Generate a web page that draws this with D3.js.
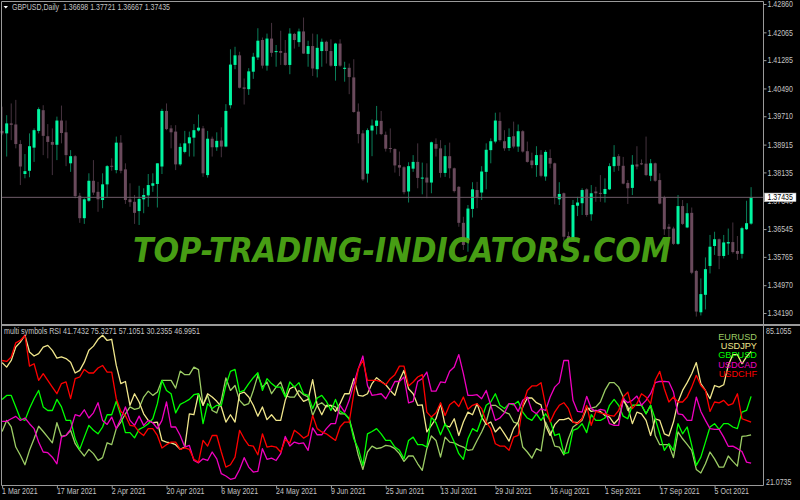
<!DOCTYPE html>
<html>
<head>
<meta charset="utf-8">
<script src="https://d3js.org/d3.v7.min.js"></script>
<style>
  body { margin: 0; background: #000; }
  text { font-family: "Liberation Sans", sans-serif; }
</style>
</head>
<body>
<div id="chart"></div>
<script>
const dateLabels = ["1 Mar 2021","17 Mar 2021","2 Apr 2021","20 Apr 2021","6 May 2021","24 May 2021","9 Jun 2021","25 Jun 2021","13 Jul 2021","29 Jul 2021","16 Aug 2021","1 Sep 2021","17 Sep 2021","5 Oct 2021"];
const barsPerLabel = 12;
const priceTicks = [1.42860,1.42065,1.41285,1.40490,1.39710,1.38915,1.38135,1.37340,1.36545,1.35765,1.34970,1.34190];
const rsiTicks = [85.1055,21.0735];
const lastPrice = 1.37435;
const chartTitle = "GBPUSD,Daily  1.36698 1.37721 1.36667 1.37435";
const rsiTitle = "multi symbols RSI 41.7432 75.3271 57.1051 30.2355 46.9951";
const watermark = "TOP-TRADING-INDICATORS.COM";

const opens = [1.3930,1.3923,1.3951,1.3948,1.3893,1.3809,1.3818,1.3883,1.3930,1.3988,
1.3915,1.3899,1.3891,1.3959,1.3926,1.3839,1.3859,1.3748,1.3685,1.3734,
1.3790,1.3759,1.3736,1.3780,1.3832,1.3820,1.3897,1.3822,1.3738,1.3731,
1.3705,1.3738,1.3749,1.3776,1.3781,1.3830,1.3986,1.3937,1.3928,1.3836,
1.3871,1.3895,1.3911,1.3931,1.3937,1.3806,1.3908,1.3884,1.3903,1.3886,
1.4002,1.4115,1.4142,1.4052,1.4047,1.4096,1.4136,1.4185,1.4113,1.4189,
1.4151,1.4154,1.4149,1.4115,1.4202,1.4179,1.4209,1.4146,1.4168,1.4103,
1.4154,1.4180,1.4154,1.4112,1.4175,1.4104,1.4107,1.4080,1.3984,1.3923,
1.3810,1.3931,1.3944,1.3958,1.3919,1.3882,1.3879,1.3834,1.3828,1.3760,
1.3824,1.3843,1.3796,1.3799,1.3785,1.3893,1.3881,1.3812,1.3859,1.3825,
1.3773,1.3672,1.3624,1.3711,1.3764,1.3757,1.3815,1.3876,1.3900,1.3958,
1.3901,1.3882,1.3915,1.3886,1.3929,1.3873,1.3847,1.3834,1.3863,1.3802,
1.3854,1.3839,1.3738,1.3755,1.3635,1.3624,1.3720,1.3727,1.3766,1.3696,
1.3760,1.3756,1.3753,1.3766,1.3831,1.3859,1.3832,1.3784,1.3770,1.3836,
1.3839,1.3838,1.3804,1.3839,1.3792,1.3744,1.3661,1.3656,1.3613,1.3719,
1.3659,1.3700,1.3537,1.3421,1.3470,1.3551,1.3607,1.3626,1.3579,1.3614,
1.3618,1.3593,1.3585,1.3654,1.36698];

const highs = [1.3998,1.3974,1.4007,1.4017,1.3904,1.3865,1.3923,1.3937,1.3996,1.4002,
1.3949,1.3937,1.3970,1.4001,1.3959,1.3876,1.3862,1.3756,1.3741,1.3811,
1.3848,1.3787,1.3811,1.3834,1.3853,1.3914,1.3918,1.3839,1.3783,1.3750,
1.3776,1.3769,1.3809,1.3811,1.3839,1.3992,1.4007,1.3946,1.3946,1.3895,
1.3930,1.3928,1.3949,1.3976,1.3944,1.3930,1.3914,1.3926,1.3940,1.4005,
1.4159,1.4166,1.4152,1.4077,1.4106,1.4149,1.4218,1.4192,1.4203,1.4233,
1.4171,1.4211,1.4185,1.4218,1.4205,1.4217,1.4248,1.4183,1.4203,1.4201,
1.4189,1.4183,1.4187,1.4177,1.4187,1.4124,1.4119,1.4131,1.4007,1.3932,
1.3937,1.3962,1.4000,1.3986,1.3928,1.3937,1.3881,1.3872,1.3831,1.3842,
1.3862,1.3895,1.3841,1.3839,1.3900,1.3909,1.3904,1.3890,1.3897,1.3827,
1.3775,1.3689,1.3722,1.3786,1.3787,1.3831,1.3895,1.3909,1.3981,1.3982,
1.3932,1.3937,1.3956,1.3948,1.3932,1.3900,1.3869,1.3887,1.3876,1.3876,
1.3878,1.3841,1.3786,1.3757,1.3647,1.3736,1.3745,1.3769,1.3769,1.3778,
1.3773,1.3806,1.3797,1.3839,1.3890,1.3865,1.3857,1.3792,1.3862,1.3887,
1.3850,1.3914,1.3851,1.3841,1.3811,1.3748,1.3669,1.3661,1.3750,1.3736,
1.3727,1.3715,1.3540,1.3516,1.3575,1.3638,1.3647,1.3628,1.3638,1.3656,
1.3673,1.3635,1.3661,1.3734,1.37721];

const lows = [1.3918,1.3858,1.3904,1.3881,1.3778,1.3797,1.3800,1.3843,1.3923,1.3862,
1.3853,1.3806,1.3848,1.3895,1.3831,1.3815,1.3741,1.3672,1.3669,1.3731,
1.3750,1.3703,1.3713,1.3745,1.3818,1.3811,1.3811,1.3725,1.3717,1.3669,
1.3666,1.3699,1.3717,1.3759,1.3715,1.3809,1.3932,1.3881,1.3820,1.3832,
1.3867,1.3858,1.3858,1.3928,1.3801,1.3799,1.3858,1.3874,1.3856,1.3884,
1.3993,1.4103,1.4049,1.4004,1.4031,1.4076,1.4129,1.4105,1.4099,1.4138,
1.4110,1.4115,1.4113,1.4089,1.4161,1.4166,1.4146,1.4110,1.4084,1.4080,
1.4110,1.4119,1.4110,1.4071,1.4110,1.4068,1.4033,1.3981,1.3895,1.3790,
1.3785,1.3859,1.3920,1.3918,1.3872,1.3869,1.3813,1.3803,1.3752,1.3729,
1.3815,1.3769,1.3752,1.3741,1.3755,1.3858,1.3799,1.3801,1.3797,1.3757,
1.3661,1.3596,1.3591,1.3687,1.3713,1.3736,1.3766,1.3839,1.3895,1.3900,
1.3874,1.3874,1.3881,1.3871,1.3869,1.3841,1.3825,1.3801,1.3800,1.3790,
1.3825,1.3724,1.3722,1.3622,1.3610,1.3619,1.3691,1.3694,1.3689,1.3678,
1.3731,1.3731,1.3729,1.3764,1.3815,1.3818,1.3780,1.3725,1.3750,1.3822,
1.3834,1.3803,1.3789,1.3787,1.3724,1.3638,1.3631,1.3610,1.3610,1.3666,
1.3657,1.3528,1.3409,1.3412,1.3429,1.3530,1.3582,1.3542,1.3572,1.3582,
1.3586,1.3568,1.3572,1.3652,1.36667];

const closes = [1.3923,1.3951,1.3947,1.3893,1.3830,1.3817,1.3887,1.3932,1.3991,1.3916,
1.3899,1.3891,1.3959,1.3924,1.3862,1.3859,1.3747,1.3685,1.3738,1.3790,
1.3757,1.3738,1.3780,1.3831,1.3830,1.3897,1.3818,1.3736,1.3730,1.3700,
1.3739,1.3750,1.3778,1.3783,1.3839,1.3986,1.3935,1.3926,1.3836,1.3885,
1.3895,1.3912,1.3932,1.3939,1.3811,1.3908,1.3884,1.3902,1.3886,1.3986,
1.4116,1.4142,1.4051,1.4048,1.4097,1.4138,1.4183,1.4113,1.4189,1.4149,
1.4154,1.4149,1.4115,1.4203,1.4185,1.4209,1.4147,1.4168,1.4105,1.4163,
1.4180,1.4154,1.4113,1.4175,1.4113,1.4107,1.4081,1.3983,1.3921,1.3794,
1.3932,1.3945,1.3959,1.3921,1.3880,1.3880,1.3833,1.3827,1.3758,1.3831,
1.3843,1.3798,1.3799,1.3785,1.3898,1.3880,1.3812,1.3859,1.3825,1.3761,
1.3672,1.3610,1.3712,1.3766,1.3743,1.3816,1.3877,1.3901,1.3959,1.3904,
1.3881,1.3913,1.3886,1.3929,1.3872,1.3843,1.3834,1.3862,1.3804,1.3871,
1.3838,1.3745,1.3753,1.3633,1.3619,1.3722,1.3729,1.3764,1.3694,1.3755,
1.3755,1.3754,1.3767,1.3831,1.3857,1.3832,1.3782,1.3769,1.3835,1.3830,
1.3836,1.3806,1.3839,1.3790,1.3726,1.3654,1.3655,1.3613,1.3719,1.3669,
1.3699,1.3532,1.3423,1.3472,1.3542,1.3605,1.3626,1.3579,1.3617,1.3618,
1.3590,1.3585,1.3657,1.3671,1.37435];

const eurusd = [42.5,47.2,44.4,35.9,32.4,28.4,34.5,39.4,44.7,42.5,40.1,37.7,46.2,40.4,40.8,43.0,37.3,34.5,32.1,34.9,33.1,30.2,31.4,37.7,36.9,43.7,46.5,50.0,52.9,51.9,52.4,57.1,59.6,57.8,59.2,64.2,64.2,64.2,60.9,68.1,66.6,66.6,69.8,68.7,53.6,57.8,51.4,50.4,55.7,65.2,59.9,62.0,55.7,53.6,54.3,59.9,66.3,61.3,63.5,
58.5,61.3,63.5,57.8,57.1,57.1,59.9,58.1,57.1,49.3,53.6,54.7,52.9,53.6,52.9,50.0,50.0,47.9,40.8,32.4,26.4,33.8,36.3,35.2,35.6,36.6,36.3,35.2,33.1,29.8,32.1,32.1,28.8,26.0,35.2,40.6,38.7,31.6,40.1,38.0,37.7,36.6,35.9,34.5,34.8,38.7,42.3,46.5,53.6,53.6,52.2,50.7,50.0,46.5,45.8,35.9,33.8,31.2,35.2,
34.2,46.5,42.3,36.3,35.9,32.6,39.4,44.4,45.8,47.2,52.2,52.4,52.9,55.0,59.9,63.2,63.2,61.3,57.1,51.4,53.6,53.6,53.6,50.0,53.6,40.8,36.9,36.9,36.9,31.4,42.3,39.4,37.0,34.5,26.4,24.9,28.8,33.8,30.9,27.4,27.4,32.1,29.8,27.8,40.4,40.6,41.1];

const usdjpy = [71.7,69.8,72.6,78.3,80.4,83.3,76.2,74.5,75.5,78.3,79.0,76.9,73.6,74.1,73.4,71.9,67.3,68.4,71.9,76.9,78.7,81.6,83.3,81.1,81.6,70.5,62.8,63.7,53.6,58.5,55.0,50.0,47.2,46.2,46.5,38.7,38.0,37.7,36.9,34.9,35.9,50.0,49.6,58.5,53.6,58.5,57.1,55.3,52.9,46.5,49.6,46.5,58.5,59.2,57.1,53.6,49.0,52.9,47.5,
49.6,47.2,47.2,55.7,60.6,61.6,57.8,55.3,56.1,64.5,53.6,49.6,53.6,53.6,51.0,54.3,58.5,58.5,64.9,57.8,57.5,58.5,62.8,65.3,63.7,62.3,59.9,57.8,64.2,68.4,60.6,58.5,53.6,53.8,42.3,45.1,47.9,54.3,45.1,44.4,47.9,40.8,46.5,50.7,49.6,54.3,48.6,45.5,46.5,42.3,44.4,41.5,38.4,43.7,46.5,52.9,56.7,56.7,54.7,
53.8,45.1,40.8,45.4,47.5,47.5,48.2,46.5,46.2,47.9,52.9,51.0,51.4,51.0,49.3,48.6,45.8,47.9,55.7,52.9,45.8,50.7,50.0,47.2,40.8,47.9,47.2,41.5,40.6,46.5,55.0,59.9,63.2,67.0,71.7,62.8,59.9,56.4,62.0,61.3,62.3,70.5,75.1,75.1,71.2,74.1,76.5];

const gbpusd = [56.1,57.8,57.8,52.9,47.9,47.2,52.2,56.4,59.9,52.9,51.4,51.4,56.1,52.9,47.2,47.2,39.4,34.9,40.1,45.1,43.0,41.5,44.4,49.6,49.6,55.3,49.3,42.0,42.0,39.8,43.4,44.4,45.8,47.9,54.3,64.2,59.9,58.5,50.4,54.0,55.0,56.1,58.1,58.5,45.8,54.3,52.2,53.6,53.6,62.0,68.0,68.8,59.2,59.9,62.8,65.3,67.4,59.9,64.9,
62.8,61.3,61.3,57.1,63.5,61.3,63.2,58.5,57.8,52.2,56.7,57.8,55.3,51.4,56.1,51.0,50.0,47.9,39.4,35.2,28.1,41.5,42.5,43.7,41.5,38.7,38.7,35.9,34.5,30.9,38.7,40.1,36.9,36.9,35.9,48.6,46.2,41.1,45.8,42.3,38.0,33.1,30.7,39.4,43.7,42.5,47.9,53.6,55.0,58.5,53.6,52.2,54.3,53.8,55.3,50.7,48.2,47.2,50.0,
47.2,50.0,47.2,40.8,41.5,33.1,33.5,43.0,43.7,45.8,42.0,49.6,47.2,47.2,48.2,53.6,56.1,53.6,49.0,47.9,53.6,53.8,53.8,50.0,53.6,47.9,41.5,34.5,37.3,34.5,45.8,41.5,44.4,36.6,28.1,31.6,38.0,44.4,45.8,43.4,45.8,45.8,44.4,43.7,50.7,51.4,57.4];

const usdcad = [46.8,46.8,47.9,48.9,47.2,48.2,45.8,43.7,38.0,33.8,33.5,31.6,28.8,40.1,40.8,43.4,49.6,49.0,51.7,48.2,50.4,54.7,47.2,45.5,48.6,43.7,47.9,52.9,47.2,45.1,49.0,45.1,47.2,46.2,43.7,47.2,55.0,44.4,44.4,40.8,35.9,36.6,30.2,29.2,30.9,30.2,33.8,30.9,24.6,23.6,22.2,22.7,26.4,31.4,27.4,25.3,25.6,35.2,30.7,
31.2,30.2,33.1,40.4,36.3,38.0,37.3,37.7,34.5,44.0,41.1,41.1,43.7,45.8,45.8,53.6,50.7,55.7,62.8,69.1,74.5,62.0,57.8,58.1,58.5,56.4,59.9,63.7,63.7,65.6,54.6,55.3,63.7,64.9,67.7,59.6,59.6,63.5,63.2,68.0,69.8,75.1,67.0,57.8,57.8,58.1,56.4,59.9,53.6,47.2,48.2,50.4,54.3,54.3,51.0,55.7,57.1,51.4,50.0,
52.2,51.4,57.1,61.3,63.2,72.6,72.6,55.7,51.0,50.7,57.4,52.2,51.0,51.9,51.4,45.8,45.1,45.1,56.4,54.7,55.7,57.5,53.6,55.7,58.5,63.2,63.7,63.7,63.5,59.2,50.0,49.6,47.2,47.2,57.1,51.0,47.2,43.7,43.4,43.4,40.1,36.2,36.3,35.2,34.0,29.5,29.1];

const usdchf = [72.6,72.2,74.1,80.1,81.1,83.3,70.2,71.2,64.2,67.0,64.2,61.3,58.5,62.8,63.5,56.4,64.9,65.6,68.8,67.3,67.3,69.4,70.5,67.7,67.7,56.4,51.0,49.3,45.1,44.8,42.3,40.8,43.7,43.7,40.8,35.5,36.9,38.0,38.0,34.9,35.5,34.9,30.7,29.5,38.7,36.3,40.8,40.8,33.8,27.4,28.4,31.6,43.0,39.4,36.6,36.3,32.6,41.5,35.9,
36.3,35.9,33.8,39.0,37.6,43.0,41.5,39.7,40.8,49.3,43.7,42.3,41.5,40.1,38.7,44.4,46.5,46.5,58.5,69.1,72.6,64.2,64.2,64.2,63.5,62.3,64.9,66.6,70.2,70.2,61.8,63.5,65.6,66.6,50.7,48.6,50.4,54.7,49.3,53.8,55.3,53.1,57.1,51.9,53.6,54.3,52.2,46.5,43.7,37.3,36.3,36.3,34.5,40.1,40.8,53.6,59.9,61.8,61.8,
63.2,53.6,46.5,50.7,53.6,54.7,52.2,46.5,45.8,47.9,53.6,45.1,51.0,50.4,50.0,49.3,49.0,51.4,57.1,59.2,52.2,54.3,58.5,57.1,54.3,64.2,68.0,60.6,55.0,57.1,55.0,55.0,57.1,61.3,66.3,62.0,59.9,51.0,55.0,54.6,55.7,53.6,54.3,58.5,47.9,47.2,46.5];

const symbols = ["EURUSD","USDJPY","GBPUSD","USDCAD","USDCHF"];
const symbolValues = [eurusd, usdjpy, gbpusd, usdcad, usdchf];
const symbolColors = ["#9ccc65","#f0e68c","#00ff00","#f000c0","#ff0000"];

const upColor = "#00f5a0";
const upWick = "#0a7d58";
const downColor = "#6a4a5c";
const downWick = "#45323e";
const frameColor = "#9a9a9a";
const textColor = "#c4c4c4";
const smallFont = 8.4;

// the small labels are narrower than any installed font, squeeze them sideways
const squeeze = sel => sel.each(function () {
  this.setAttribute("textLength", this.getComputedTextLength() * 0.84);
  this.setAttribute("lengthAdjust", "spacingAndGlyphs");
});

const svg = d3.select("#chart").append("svg")
  .attr("width", 800)
  .attr("height", 500)
  .style("display", "block")
  .style("background", "#000");

const x = d3.scaleLinear().domain([0, opens.length - 1]).range([2.1, 751.1]);
const yPrice = d3.scaleLinear().domain([priceTicks[0], priceTicks[priceTicks.length - 1]]).range([4, 313]);
const yRsi = d3.scaleLinear().domain(rsiTicks).range([331, 482]);

// candles
const candles = svg.append("g")
  .selectAll("g")
  .data(opens.map((o, i) => ({i, o, h: highs[i], l: lows[i], c: closes[i]})))
  .join("g");

candles.append("rect")
  .attr("x", d => x(d.i) - 0.5)
  .attr("width", 1)
  .attr("y", d => yPrice(d.h))
  .attr("height", d => yPrice(d.l) - yPrice(d.h))
  .attr("fill", d => d.c >= d.o ? upWick : downWick);

candles.append("rect")
  .attr("x", d => x(d.i) - 1.5)
  .attr("width", 3)
  .attr("y", d => yPrice(Math.max(d.o, d.c)))
  .attr("height", d => Math.max(1, Math.abs(yPrice(d.o) - yPrice(d.c))))
  .attr("fill", d => d.c >= d.o ? upColor : downColor);

// bid line
svg.append("line")
  .attr("x1", 2).attr("x2", 763)
  .attr("y1", yPrice(lastPrice)).attr("y2", yPrice(lastPrice))
  .attr("stroke", "#6e5c68");

// rsi lines
const rsiLine = d3.line().x((d, i) => x(i)).y(d => yRsi(d));
svg.append("g")
  .selectAll("path")
  .data(symbolValues)
  .join("path")
  .attr("d", d => rsiLine(d))
  .attr("fill", "none")
  .attr("stroke", (d, i) => symbolColors[i])
  .attr("stroke-width", 1.3)
  .attr("stroke-linejoin", "round");

svg.append("g")
  .selectAll("text")
  .data(symbols)
  .join("text")
  .attr("x", 757)
  .attr("y", (d, i) => 340 + i * 9.2)
  .attr("text-anchor", "end")
  .attr("font-size", 9.2)
  .attr("fill", (d, i) => symbolColors[i])
  .text(d => d);

// frame
svg.append("path")
  .attr("d", "M1.5,1.5H763.5V485.5H1.5Z")
  .attr("fill", "none")
  .attr("stroke", frameColor);
svg.append("line")
  .attr("x1", 1).attr("x2", 800)
  .attr("y1", 325).attr("y2", 325)
  .attr("stroke", frameColor)
  .attr("stroke-width", 2);

// axes
const styleAxis = g => {
  g.select(".domain").remove();
  g.selectAll("line").attr("stroke", frameColor);
  g.selectAll("text").attr("fill", textColor).attr("font-size", smallFont)
    .attr("font-family", null).call(squeeze);
};

svg.append("g")
  .attr("transform", "translate(763.5,0)")
  .call(d3.axisRight(yPrice).tickValues(priceTicks).tickSize(3).tickPadding(1).tickFormat(d3.format(".5f")))
  .call(styleAxis);

svg.append("g")
  .attr("transform", "translate(763.5,0)")
  .call(d3.axisRight(yRsi).tickValues(rsiTicks).tickSize(0).tickPadding(2.5).tickFormat(d3.format(".4f")))
  .call(styleAxis);

const xAxis = d3.axisBottom(x)
  .tickValues(dateLabels.map((d, i) => i * barsPerLabel))
  .tickSize(3)
  .tickFormat((d, i) => dateLabels[i]);

svg.append("g")
  .attr("transform", "translate(0,485.5)")
  .call(xAxis)
  .call(styleAxis)
  .call(g => g.selectAll("text").attr("text-anchor", "start").attr("x", -0.5).attr("y", 3));

// last price box
svg.append("rect")
  .attr("x", 764.5).attr("y", yPrice(lastPrice) - 4.3)
  .attr("width", 31.5).attr("height", 8.6)
  .attr("fill", "#fff")
  .attr("stroke", "#aaa")
  .attr("stroke-width", 0.5);
svg.append("text")
  .attr("x", 767.5).attr("y", yPrice(lastPrice) + 3)
  .attr("font-size", smallFont)
  .attr("fill", "#000")
  .text(d3.format(".5f")(lastPrice))
  .call(squeeze);

// titles
svg.append("path")
  .attr("d", "M3.5,6H8L5.8,8.5Z")
  .attr("fill", "#fff");
svg.append("text")
  .attr("x", 12).attr("y", 10)
  .attr("font-size", smallFont)
  .attr("fill", textColor)
  .attr("textLength", 158)
  .attr("lengthAdjust", "spacingAndGlyphs")
  .style("white-space", "pre")
  .text(chartTitle);
svg.append("text")
  .attr("x", 4).attr("y", 334.3)
  .attr("font-size", smallFont)
  .attr("fill", textColor)
  .attr("textLength", 196)
  .attr("lengthAdjust", "spacingAndGlyphs")
  .text(rsiTitle);

// watermark, candles show faintly through it
svg.append("text")
  .attr("x", 133).attr("y", 262)
  .attr("textLength", 538)
  .attr("lengthAdjust", "spacingAndGlyphs")
  .style("font-family", '"DejaVu Sans", sans-serif')
  .attr("font-weight", "bold")
  .attr("font-style", "italic")
  .attr("font-size", 34)
  .attr("fill", "#4ca816")
  .attr("fill-opacity", 0.94)
  .text(watermark);
</script>
</body>
</html>
